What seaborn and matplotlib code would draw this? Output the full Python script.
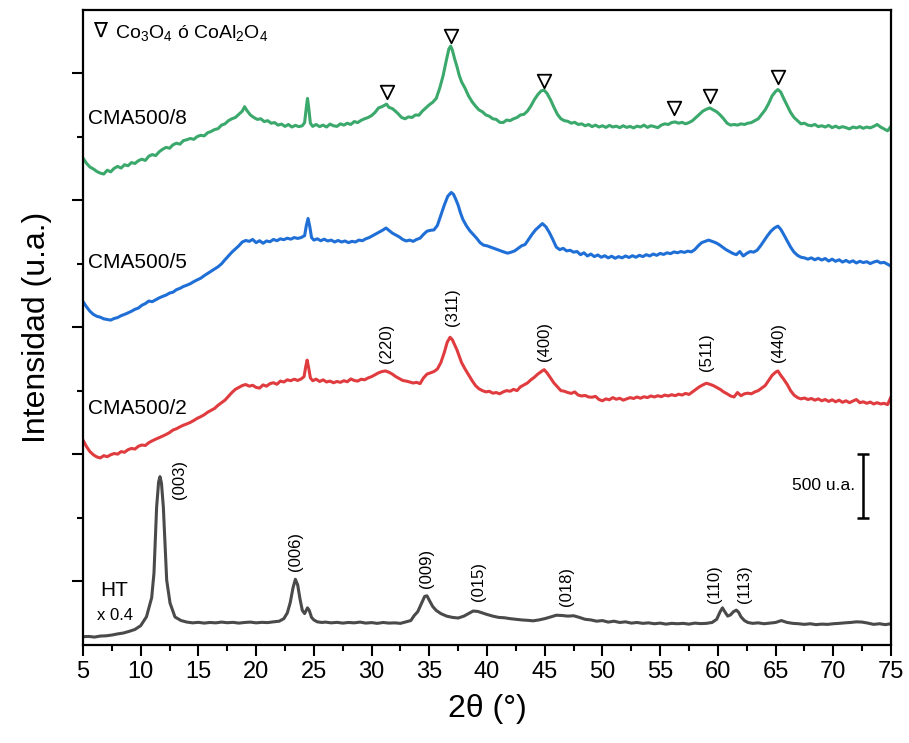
import numpy as np
import pandas as pd
import matplotlib
matplotlib.use("Agg")
import matplotlib.pyplot as plt
from matplotlib.ticker import FixedLocator, MultipleLocator
import seaborn as sns

# ---- diffractograms (2θ in degrees, intensity in u.a., vertically stacked) ----
cma8_theta = [5.0, 5.3, 5.6, 5.9, 6.2, 6.5, 6.8, 7.1, 7.4, 7.7, 8.0, 8.3, 8.6, 8.9, 9.2, 9.5,
              9.8, 10.1, 10.4, 10.7, 11.0, 11.3, 11.6, 11.9, 12.2, 12.5, 12.8, 13.1, 13.4, 13.7,
              14.0, 14.3, 14.6, 14.9, 15.2, 15.5, 15.8, 16.1, 16.4, 16.7, 17.0, 17.3, 17.6, 17.9,
              18.2, 18.5, 18.8, 19.0, 19.2, 19.5, 19.8, 20.1, 20.4, 20.7, 21.0, 21.3, 21.6, 21.9,
              22.2, 22.5, 22.8, 23.1, 23.4, 23.7, 24.0, 24.2, 24.35, 24.45, 24.55, 24.7, 24.9,
              25.2, 25.5, 25.8, 26.1, 26.4, 26.7, 27.0, 27.3, 27.6, 27.9, 28.2, 28.5, 28.8, 29.1,
              29.4, 29.7, 30.0, 30.3, 30.6, 30.9, 31.1, 31.3, 31.5, 31.8, 32.0, 32.3, 32.6, 32.9,
              33.2, 33.5, 33.8, 34.1, 34.4, 34.7, 35.0, 35.3, 35.6, 35.9, 36.2, 36.5, 36.7, 36.85,
              37.0, 37.2, 37.4, 37.6, 37.8, 38.1, 38.4, 38.7, 39.0, 39.3, 39.6, 39.9, 40.2, 40.5,
              40.8, 41.1, 41.4, 41.7, 42.0, 42.3, 42.6, 42.9, 43.2, 43.5, 43.8, 44.1, 44.4, 44.7,
              44.95, 45.2, 45.5, 45.8, 46.1, 46.4, 46.7, 47.0, 47.3, 47.6, 47.9, 48.2, 48.5, 48.8,
              49.1, 49.4, 49.7, 50.0, 50.3, 50.6, 50.9, 51.2, 51.5, 51.8, 52.1, 52.4, 52.7, 53.0,
              53.3, 53.6, 53.9, 54.2, 54.5, 54.8, 55.1, 55.4, 55.7, 56.0, 56.3, 56.6, 56.9, 57.2,
              57.5, 57.8, 58.1, 58.4, 58.7, 59.0, 59.3, 59.6, 59.9, 60.2, 60.5, 60.8, 61.1, 61.4,
              61.7, 62.0, 62.3, 62.6, 62.9, 63.2, 63.5, 63.8, 64.1, 64.4, 64.7, 65.0, 65.2, 65.45,
              65.7, 66.0, 66.3, 66.6, 66.9, 67.2, 67.5, 67.8, 68.1, 68.4, 68.7, 69.0, 69.3, 69.6,
              69.9, 70.2, 70.5, 70.8, 71.1, 71.4, 71.7, 72.0, 72.3, 72.6, 72.9, 73.2, 73.5, 73.8,
              74.1, 74.4, 74.7, 75.0]
cma8_int = [3830, 3790, 3760, 3745, 3725, 3712, 3705, 3735, 3722, 3750, 3765, 3752, 3778, 3770,
            3795, 3788, 3810, 3822, 3812, 3845, 3858, 3850, 3880, 3900, 3915, 3908, 3935, 3948,
            3940, 3968, 3975, 3985, 3978, 4000, 4010, 4005, 4030, 4040, 4055, 4062, 4090, 4100,
            4125, 4140, 4150, 4175, 4200, 4235, 4205, 4170, 4150, 4135, 4140, 4118, 4125, 4105,
            4110, 4090, 4098, 4080, 4095, 4075, 4088, 4078, 4085, 4110, 4230, 4300, 4230, 4105,
            4080, 4095, 4078, 4090, 4075, 4098, 4085, 4080, 4100, 4090, 4105, 4095, 4118, 4110,
            4128, 4140, 4150, 4165, 4190, 4225, 4235, 4245, 4255, 4230, 4220, 4205, 4180, 4150,
            4140, 4155, 4150, 4170, 4168, 4200, 4225, 4250, 4270, 4300, 4380, 4480, 4610, 4690,
            4712, 4680, 4610, 4550, 4480, 4430, 4380, 4320, 4275, 4240, 4210, 4195, 4170, 4160,
            4140, 4135, 4112, 4110, 4130, 4125, 4140, 4150, 4170, 4175, 4200, 4240, 4290, 4330,
            4360, 4365, 4340, 4290, 4230, 4175, 4140, 4125, 4120, 4105, 4112, 4095, 4100, 4085,
            4095, 4078, 4090, 4075, 4085, 4072, 4088, 4075, 4082, 4070, 4085, 4072, 4080, 4068,
            4082, 4075, 4090, 4072, 4085, 4078, 4070, 4090, 4100, 4095, 4110, 4115, 4105, 4112,
            4100, 4110, 4125, 4150, 4175, 4200, 4215, 4225, 4210, 4195, 4170, 4140, 4105, 4090,
            4095, 4090, 4100, 4095, 4105, 4110, 4125, 4140, 4175, 4210, 4260, 4320, 4355, 4370,
            4350, 4300, 4245, 4190, 4150, 4125, 4100, 4105, 4090, 4085, 4095, 4078, 4085, 4075,
            4088, 4070, 4082, 4068, 4078, 4070, 4060, 4075, 4068, 4078, 4065, 4075, 4068, 4080,
            4095, 4075, 4060, 4045, 4080]

cma5_theta = [5.0, 5.3, 5.6, 5.9, 6.2, 6.5, 6.8, 7.1, 7.4, 7.7, 8.0, 8.3, 8.6, 8.9, 9.2, 9.5,
              9.8, 10.1, 10.4, 10.7, 11.0, 11.3, 11.6, 11.9, 12.2, 12.5, 12.8, 13.1, 13.4, 13.7,
              14.0, 14.3, 14.6, 14.9, 15.2, 15.5, 15.8, 16.1, 16.4, 16.7, 17.0, 17.3, 17.6, 17.9,
              18.2, 18.5, 18.8, 19.1, 19.4, 19.7, 20.0, 20.3, 20.6, 20.9, 21.2, 21.5, 21.8, 22.1,
              22.4, 22.7, 23.0, 23.3, 23.6, 23.9, 24.2, 24.35, 24.5, 24.65, 24.8, 25.0, 25.3,
              25.6, 25.9, 26.2, 26.5, 26.8, 27.1, 27.4, 27.7, 28.0, 28.3, 28.6, 28.9, 29.2, 29.5,
              29.8, 30.1, 30.4, 30.7, 31.0, 31.25, 31.5, 31.8, 32.1, 32.4, 32.7, 33.0, 33.3, 33.6,
              33.9, 34.2, 34.5, 34.8, 35.1, 35.4, 35.7, 36.0, 36.3, 36.6, 36.9, 37.1, 37.3, 37.5,
              37.7, 37.9, 38.2, 38.5, 38.8, 39.1, 39.4, 39.7, 40.0, 40.3, 40.6, 40.9, 41.2, 41.5,
              41.8, 42.1, 42.4, 42.7, 43.0, 43.3, 43.6, 43.9, 44.2, 44.5, 44.8, 45.1, 45.4, 45.7,
              46.0, 46.3, 46.6, 46.9, 47.2, 47.5, 47.8, 48.1, 48.4, 48.7, 49.0, 49.3, 49.6, 49.9,
              50.2, 50.5, 50.8, 51.1, 51.4, 51.7, 52.0, 52.3, 52.6, 52.9, 53.2, 53.5, 53.8, 54.1,
              54.4, 54.7, 55.0, 55.3, 55.6, 55.9, 56.2, 56.5, 56.8, 57.1, 57.4, 57.7, 58.0, 58.3,
              58.6, 58.9, 59.2, 59.5, 59.8, 60.1, 60.4, 60.7, 61.0, 61.3, 61.6, 61.9, 62.2, 62.5,
              62.8, 63.1, 63.4, 63.7, 64.0, 64.3, 64.6, 64.9, 65.2, 65.45, 65.7, 66.0, 66.3, 66.6,
              66.9, 67.2, 67.5, 67.8, 68.1, 68.4, 68.7, 69.0, 69.3, 69.6, 69.9, 70.2, 70.5, 70.8,
              71.1, 71.4, 71.7, 72.0, 72.3, 72.6, 72.9, 73.2, 73.5, 73.8, 74.1, 74.4, 74.7, 75.0]
cma5_int = [2701, 2660, 2625, 2600, 2585, 2578, 2565, 2560, 2555, 2568, 2575, 2590, 2600, 2612,
            2625, 2640, 2650, 2672, 2685, 2705, 2700, 2715, 2730, 2742, 2752, 2768, 2775, 2795,
            2805, 2820, 2830, 2842, 2858, 2872, 2885, 2905, 2922, 2940, 2958, 2975, 2998, 3030,
            3060, 3090, 3115, 3140, 3170, 3182, 3175, 3190, 3165, 3180, 3160, 3178, 3172, 3190,
            3180, 3195, 3188, 3200, 3192, 3205, 3198, 3205, 3220, 3300, 3355, 3290, 3205, 3185,
            3195, 3180, 3192, 3178, 3185, 3170, 3182, 3170, 3178, 3165, 3175, 3170, 3185, 3180,
            3195, 3205, 3220, 3235, 3250, 3265, 3280, 3262, 3240, 3225, 3210, 3190, 3178, 3185,
            3175, 3190, 3200, 3230, 3255, 3262, 3265, 3300, 3380, 3460, 3530, 3560, 3545, 3505,
            3460, 3400, 3350, 3300, 3260, 3230, 3200, 3165, 3145, 3140, 3130, 3120, 3110, 3100,
            3090, 3082, 3090, 3100, 3120, 3140, 3150, 3190, 3230, 3265, 3290, 3315, 3290, 3245,
            3190, 3130, 3110, 3120, 3100, 3105, 3090, 3095, 3070, 3085, 3060, 3075, 3055, 3068,
            3050, 3062, 3045, 3058, 3042, 3055, 3045, 3060, 3048, 3062, 3050, 3065, 3055, 3070,
            3060, 3075, 3065, 3080, 3072, 3085, 3078, 3092, 3085, 3095, 3088, 3098, 3092, 3110,
            3140, 3165, 3175, 3185, 3175, 3165, 3150, 3130, 3110, 3095, 3080, 3070, 3095, 3060,
            3080, 3095, 3090, 3105, 3140, 3180, 3220, 3255, 3280, 3295, 3270, 3230, 3180, 3130,
            3090, 3065, 3050, 3045, 3035, 3045, 3030, 3042, 3028, 3040, 3020, 3035, 3018, 3030,
            3012, 3025, 3010, 3022, 3005, 3018, 3008, 3015, 3000, 3012, 3020, 3005, 3010, 2995,
            2980]

cma2_theta = [5.0, 5.3, 5.6, 5.9, 6.2, 6.5, 6.8, 7.1, 7.4, 7.7, 8.0, 8.3, 8.6, 8.9, 9.2, 9.5,
              9.8, 10.1, 10.4, 10.7, 11.0, 11.3, 11.6, 11.9, 12.2, 12.5, 12.8, 13.1, 13.4, 13.7,
              14.0, 14.3, 14.6, 14.9, 15.2, 15.5, 15.8, 16.1, 16.4, 16.7, 17.0, 17.3, 17.6, 17.9,
              18.2, 18.5, 18.8, 19.1, 19.4, 19.7, 20.0, 20.3, 20.6, 20.9, 21.2, 21.5, 21.8, 22.1,
              22.4, 22.7, 23.0, 23.3, 23.6, 23.9, 24.15, 24.3, 24.42, 24.55, 24.7, 24.9, 25.2,
              25.5, 25.8, 26.1, 26.4, 26.7, 27.0, 27.3, 27.6, 27.9, 28.2, 28.5, 28.8, 29.1, 29.4,
              29.7, 30.0, 30.3, 30.6, 30.9, 31.2, 31.5, 31.8, 32.1, 32.4, 32.7, 33.0, 33.3, 33.6,
              33.9, 34.2, 34.5, 34.8, 35.1, 35.4, 35.7, 36.0, 36.3, 36.55, 36.8, 37.0, 37.2, 37.4,
              37.6, 37.8, 38.1, 38.4, 38.7, 39.0, 39.3, 39.6, 39.9, 40.2, 40.5, 40.8, 41.1, 41.4,
              41.7, 42.0, 42.3, 42.6, 42.9, 43.2, 43.5, 43.8, 44.1, 44.4, 44.7, 44.95, 45.2, 45.5,
              45.8, 46.1, 46.4, 46.7, 47.0, 47.3, 47.6, 47.9, 48.2, 48.5, 48.8, 49.1, 49.4, 49.7,
              50.0, 50.3, 50.6, 50.9, 51.2, 51.5, 51.8, 52.1, 52.4, 52.7, 53.0, 53.3, 53.6, 53.9,
              54.2, 54.5, 54.8, 55.1, 55.4, 55.7, 56.0, 56.3, 56.6, 56.9, 57.2, 57.5, 57.8, 58.1,
              58.4, 58.7, 59.0, 59.3, 59.6, 59.9, 60.2, 60.5, 60.8, 61.1, 61.4, 61.7, 62.0, 62.3,
              62.6, 62.9, 63.2, 63.5, 63.8, 64.1, 64.4, 64.7, 65.0, 65.2, 65.45, 65.7, 66.0, 66.3,
              66.6, 66.9, 67.2, 67.5, 67.8, 68.1, 68.4, 68.7, 69.0, 69.3, 69.6, 69.9, 70.2, 70.5,
              70.8, 71.1, 71.4, 71.7, 72.0, 72.3, 72.6, 72.9, 73.2, 73.5, 73.8, 74.1, 74.4, 74.7,
              75.0]
cma2_int = [1610, 1560, 1520, 1495, 1478, 1470, 1488, 1480, 1495, 1505, 1500, 1520, 1515, 1535,
            1545, 1540, 1562, 1572, 1568, 1590, 1605, 1618, 1630, 1642, 1655, 1670, 1690, 1700,
            1715, 1728, 1738, 1750, 1765, 1782, 1795, 1810, 1830, 1845, 1860, 1885, 1905, 1925,
            1955, 1985, 2010, 2025, 2040, 2048, 2035, 2042, 2025, 2020, 2045, 2035, 2055, 2062,
            2050, 2075, 2068, 2085, 2078, 2090, 2080, 2092, 2110, 2190, 2240, 2180, 2100, 2078,
            2090, 2072, 2085, 2068, 2075, 2062, 2072, 2065, 2078, 2070, 2092, 2080, 2075, 2090,
            2085, 2100, 2110, 2125, 2140, 2150, 2155, 2145, 2130, 2110, 2095, 2080, 2075, 2068,
            2060, 2065, 2055, 2100, 2130, 2140, 2150, 2170, 2220, 2300, 2380, 2420, 2400, 2360,
            2320, 2270, 2220, 2170, 2125, 2080, 2040, 2015, 2000, 1990, 1995, 1980, 1985, 1975,
            1990, 2000, 1995, 2010, 2000, 2030, 2045, 2060, 2085, 2105, 2130, 2150, 2165, 2140,
            2100, 2060, 2030, 2000, 1995, 1985, 1978, 1990, 1965, 1958, 1962, 1950, 1948, 1955,
            1930, 1920, 1935, 1928, 1945, 1932, 1940, 1925, 1935, 1945, 1938, 1950, 1940, 1952,
            1945, 1958, 1950, 1960, 1952, 1965, 1958, 1968, 1960, 1972, 1965, 1978, 1970, 1990,
            2010, 2030, 2045, 2058, 2050, 2040, 2025, 2010, 1990, 1975, 1958, 1950, 1985, 1960,
            1975, 1980, 1975, 1990, 2000, 2020, 2040, 2080, 2120, 2145, 2155, 2120, 2090, 2050,
            2000, 1965, 1945, 1935, 1942, 1930, 1938, 1925, 1935, 1920, 1930, 1915, 1928, 1912,
            1925, 1908, 1920, 1905, 1918, 1930, 1905, 1912, 1900, 1910, 1895, 1905, 1895, 1900,
            1890, 1950]

ht_theta = [5.0, 5.5, 6.0, 6.5, 7.0, 7.5, 8.0, 8.5, 9.0, 9.5, 10.0, 10.5, 10.95, 11.15, 11.38,
            11.55, 11.67, 11.8, 11.96, 12.1, 12.25, 12.54, 12.97, 13.5, 14.0, 14.5, 15.0, 15.5,
            16.0, 16.5, 17.0, 17.5, 18.0, 18.5, 19.0, 19.5, 20.0, 20.5, 21.0, 21.5, 22.0, 22.4,
            22.7, 22.95, 23.2, 23.4, 23.6, 23.8, 24.0, 24.2, 24.45, 24.6, 24.8, 25.0, 25.3, 25.7,
            26.0, 26.5, 27.0, 27.5, 28.0, 28.5, 29.0, 29.5, 30.0, 30.5, 31.0, 31.5, 32.0, 32.5,
            33.0, 33.4, 33.7, 34.0, 34.3, 34.6, 34.8, 35.0, 35.3, 35.6, 36.0, 36.5, 37.0, 37.5,
            38.0, 38.4, 38.8, 39.2, 39.6, 40.0, 40.5, 41.0, 41.5, 42.0, 42.5, 43.0, 43.5, 44.0,
            44.5, 45.0, 45.5, 46.0, 46.5, 47.0, 47.5, 48.0, 48.5, 49.0, 49.5, 50.0, 50.5, 51.0,
            51.5, 52.0, 52.5, 53.0, 53.5, 54.0, 54.5, 55.0, 55.5, 56.0, 56.5, 57.0, 57.5, 58.0,
            58.5, 59.0, 59.5, 59.9, 60.2, 60.4, 60.6, 60.85, 61.1, 61.35, 61.6, 61.8, 62.0, 62.3,
            62.6, 63.0, 63.5, 64.0, 64.5, 65.0, 65.5, 66.0, 66.5, 67.0, 67.5, 68.0, 68.5, 69.0,
            69.5, 70.0, 70.5, 71.0, 71.5, 72.0, 72.5, 73.0, 73.5, 74.0, 74.5, 75.0]
ht_int = [63, 65, 60, 68, 70, 76, 85, 92, 105, 120, 150, 220, 370, 565, 1085,
          1280, 1323, 1270, 1085, 800, 509, 328, 218, 190, 178, 172, 176, 170,
          175, 172, 178, 173, 176, 170, 175, 178, 172, 176, 174, 180, 185, 205,
          250, 330, 450, 515, 470, 360, 270, 245, 290, 270, 215, 195, 180, 175,
          178, 172, 176, 170, 175, 172, 178, 170, 174, 168, 175, 170, 172, 168,
          180, 190, 230, 260, 320, 380, 385, 350, 300, 270, 245, 225, 215, 210,
          225, 245, 265, 262, 250, 238, 225, 215, 212, 205, 200, 195, 192, 188,
          195, 205, 218, 232, 230, 225, 228, 215, 200, 195, 185, 190, 178, 185,
          175, 180, 170, 175, 168, 172, 165, 170, 162, 168, 165, 168, 162, 170,
          166, 168, 175, 200, 260, 290, 260, 225, 235, 260, 272, 255, 220, 190,
          175, 168, 172, 165, 170, 175, 190, 175, 168, 165, 160, 165, 158, 162,
          160, 165, 168, 172, 175, 180, 178, 170, 160, 165, 158, 165]

series_names = ["CMA500/8", "CMA500/5", "CMA500/2", "HT"]
series_colors = ["#3ba86c", "#1f6fd6", "#e03c3f", "#4a4a4a"]

# ---- Miller-index annotations ----
spinel_hkl = ["(220)", "(311)", "(400)", "(511)", "(440)"]
spinel_theta = [31.3, 37.0, 45.0, 59.0, 65.25]
spinel_y = [2375, 2659, 2383, 2304, 2375]

ht_hkl = ["(003)", "(006)", "(009)", "(015)", "(018)", "(110)", "(113)"]
ht_lbl_theta = [13.4, 23.4, 34.76, 39.27, 46.9, 59.75, 62.35]
ht_lbl_y = [1297, 730, 604, 494, 462, 478, 478]

# Co3O4 / CoAl2O4 reflections flagged on CMA500/8
marker_theta = [31.3, 36.84, 44.95, 56.2, 59.3, 65.2]
marker_y = [4354, 4793, 4439, 4224, 4320, 4472]

x_ticks = list(range(5, 80, 5))

sns.set_style("ticks")
plt.rcParams["font.family"] = ["Liberation Sans", "DejaVu Sans"]
plt.rcParams["mathtext.fontset"] = "custom"
plt.rcParams["mathtext.rm"] = "Liberation Sans"
plt.rcParams["mathtext.it"] = "Liberation Sans:italic"
plt.rcParams["text.color"] = "black"
plt.rcParams["axes.labelcolor"] = "black"
plt.rcParams["xtick.color"] = "black"
plt.rcParams["ytick.color"] = "black"

fig = plt.figure(figsize=(9.09, 7.43), dpi=100)
ax = fig.add_axes([0.0913, 0.1323, 0.8889, 0.8549])

frames = []
for name, th, it in [("CMA500/8", cma8_theta, cma8_int), ("CMA500/5", cma5_theta, cma5_int),
                     ("CMA500/2", cma2_theta, cma2_int), ("HT", ht_theta, ht_int)]:
    frames.append(pd.DataFrame({"theta": th, "intensity": it, "muestra": name}))
df = pd.concat(frames, ignore_index=True)

sns.lineplot(data=df, x="theta", y="intensity", hue="muestra", hue_order=series_names,
             palette=series_colors, estimator=None, sort=True, linewidth=2.2,
             legend=False, ax=ax)

sns.scatterplot(x=marker_theta, y=marker_y, marker="v", s=95, color="white",
                edgecolor="black", linewidth=1.3, zorder=5, ax=ax)

for lbl, th, yy in zip(spinel_hkl, spinel_theta, spinel_y):
    ax.text(th, yy, lbl, rotation=90, ha="center", va="center", fontsize=12)
for lbl, th, yy in zip(ht_hkl, ht_lbl_theta, ht_lbl_y):
    ax.text(th, yy, lbl, rotation=90, ha="center", va="center", fontsize=12)

ax.text(5.43, 4139, "CMA500/8", ha="left", va="center", fontsize=15)
ax.text(5.43, 3005, "CMA500/5", ha="left", va="center", fontsize=15)
ax.text(5.43, 1856, "CMA500/2", ha="left", va="center", fontsize=15)
ax.text(6.47, 423, "HT", ha="left", va="center", fontsize=15)
ax.text(6.2, 226, "x 0.4", ha="left", va="center", fontsize=12)

ax.text(5.85, 4835, "∇", ha="left", va="center", fontsize=15, family="DejaVu Sans")
ax.text(7.8, 4817, "Co$_3$O$_4$ ó CoAl$_2$O$_4$", ha="left", va="center", fontsize=14)

# 500 u.a. scale bar
ax.errorbar([72.55], [1250], yerr=[250], color="black", capsize=4, elinewidth=1.8,
            capthick=1.8, fmt="none")
ax.text(71.9, 1250, "500 u.a.", ha="right", va="center", fontsize=12.5)

ax.set_xlim(5, 75)
ax.set_ylim(0, 5000)
ax.xaxis.set_major_locator(FixedLocator(x_ticks))
ax.xaxis.set_minor_locator(MultipleLocator(2.5))
ax.yaxis.set_major_locator(FixedLocator([500, 1500, 2500, 3500, 4500]))
ax.yaxis.set_minor_locator(FixedLocator([1000, 2000, 3000, 4000]))
ax.tick_params(axis="both", which="major", direction="out", length=8, width=1.5,
               labelsize=17, color="black", labelcolor="black")
ax.tick_params(axis="both", which="minor", direction="out", length=4, width=1.5, color="black")
ax.tick_params(axis="y", which="both", labelleft=False)
for sp in ax.spines.values():
    sp.set_visible(True)
    sp.set_linewidth(1.6)
    sp.set_color("black")

ax.set_xlabel("2θ (°)", fontsize=23, labelpad=8)
ax.set_ylabel("Intensidad (u.a.)", fontsize=23, labelpad=14)

fig.savefig("out.png", dpi=100)
